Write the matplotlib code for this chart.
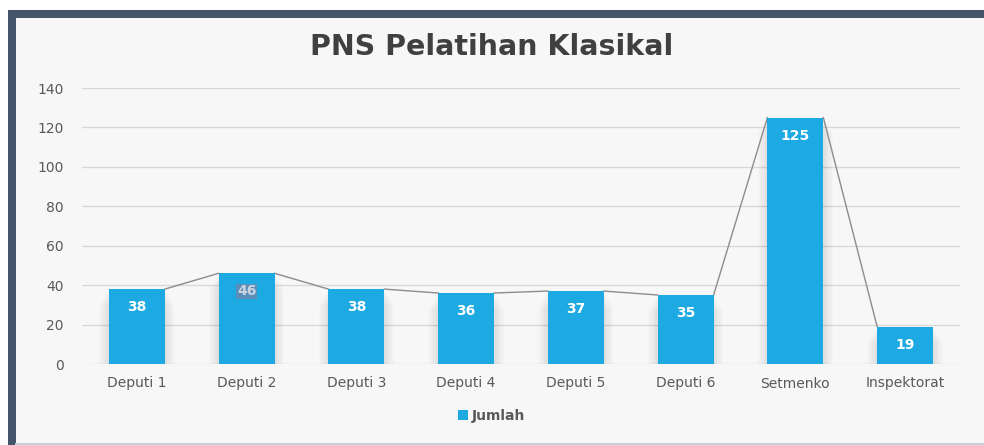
import matplotlib.pyplot as plt
from matplotlib.patches import Rectangle
from matplotlib.lines import Line2D
import numpy as np

categories = ["Deputi 1", "Deputi 2", "Deputi 3", "Deputi 4", "Deputi 5",
              "Deputi 6", "Setmenko", "Inspektorat"]
jumlah = [38, 46, 38, 36, 37, 35, 125, 19]
y_ticks = [0, 20, 40, 60, 80, 100, 120, 140]

BAR = "#1DA9E1"
FRAME = "#44546A"
TEXT = "#595959"

plt.rcParams["font.family"] = ["DejaVu Sans"]

fig = plt.figure(figsize=(9.84, 4.45), dpi=100)
fig.patch.set_facecolor("white")

# panel background and dark frame
W, H = 984, 445
fig.add_artist(Rectangle((8 / W, 0), 1 - 8 / W, 1 - 10 / H, transform=fig.transFigure,
                         facecolor="#F7F7F7", edgecolor="none", zorder=0))
fig.add_artist(Rectangle((8 / W, 1 - 18 / H), 1 - 8 / W, 8 / H, transform=fig.transFigure,
                         facecolor=FRAME, edgecolor="none", zorder=1))
fig.add_artist(Rectangle((8 / W, 0), 8 / W, 1 - 10 / H, transform=fig.transFigure,
                         facecolor=FRAME, edgecolor="none", zorder=1))
fig.add_artist(Line2D([16 / W, 1], [1.5 / H, 1.5 / H], transform=fig.transFigure,
                      color="#C8CED8", lw=1.5, zorder=1))

ax = fig.add_axes([82 / W, 1 - 364 / H, (960 - 82) / W, (364 - 88) / H])
ax.set_facecolor("none")

x = np.arange(len(categories))
w = 0.51

# soft shadow at the sides of the bars
for k in range(1, 9):
    ax.bar(x, [max(v - 1.0 * k, 0) for v in jumlah], width=w + 0.022 * k,
           color="#000000", alpha=0.012, zorder=1, linewidth=0)

ax.bar(x, jumlah, width=w, color=BAR, zorder=3, linewidth=0)

# line linking the top corners of neighbouring bars
lx, ly = [], []
for i in range(len(jumlah) - 1):
    lx += [x[i] + w / 2, x[i + 1] - w / 2, np.nan]
    ly += [jumlah[i], jumlah[i + 1], np.nan]
ax.plot(lx, ly, color="#8C8C8C", lw=1.0, zorder=2)

for i, (xi, v) in enumerate(zip(x, jumlah)):
    if categories[i] == "Deputi 2":
        ax.annotate(str(v), (xi, v), xytext=(0, -13), textcoords="offset points",
                    ha="center", va="center", fontsize=10, fontweight="bold",
                    color="#C9D6E3", zorder=5,
                    bbox=dict(boxstyle="square,pad=0.05", facecolor="#5B8DB8",
                              edgecolor="none"))
    else:
        ax.annotate(str(v), (xi, v), xytext=(0, -13), textcoords="offset points",
                    ha="center", va="center", fontsize=10, fontweight="bold",
                    color="white", zorder=5)

ax.set_xlim(-0.5, len(categories) - 0.5)
ax.set_ylim(0, 140)
ax.set_yticks(y_ticks)
ax.set_xticks(x)
ax.set_xticklabels(categories)
ax.tick_params(axis="both", length=0, labelsize=10, colors=TEXT)
ax.tick_params(axis="y", pad=13)
ax.tick_params(axis="x", pad=9)
ax.grid(axis="y", color="#D9D9D9", lw=1, zorder=0)
ax.set_axisbelow(True)
for s in ax.spines.values():
    s.set_visible(False)

fig.text(0.5, 1 - 47 / H, "PNS Pelatihan Klasikal", ha="center", va="center",
         fontsize=20.5, fontweight="bold", color="#404040")

handle = Rectangle((0, 0), 1, 1, facecolor=BAR, edgecolor="none")
leg = fig.legend([handle], ["Jumlah"], loc="center", bbox_to_anchor=(0.5, 1 - 416 / H),
                 frameon=False, fontsize=10, handlelength=0.7, handleheight=0.7,
                 handletextpad=0.3)
for t in leg.get_texts():
    t.set_color(TEXT)
    t.set_fontweight("bold")

fig.savefig("out.png", dpi=100, facecolor=fig.get_facecolor())
